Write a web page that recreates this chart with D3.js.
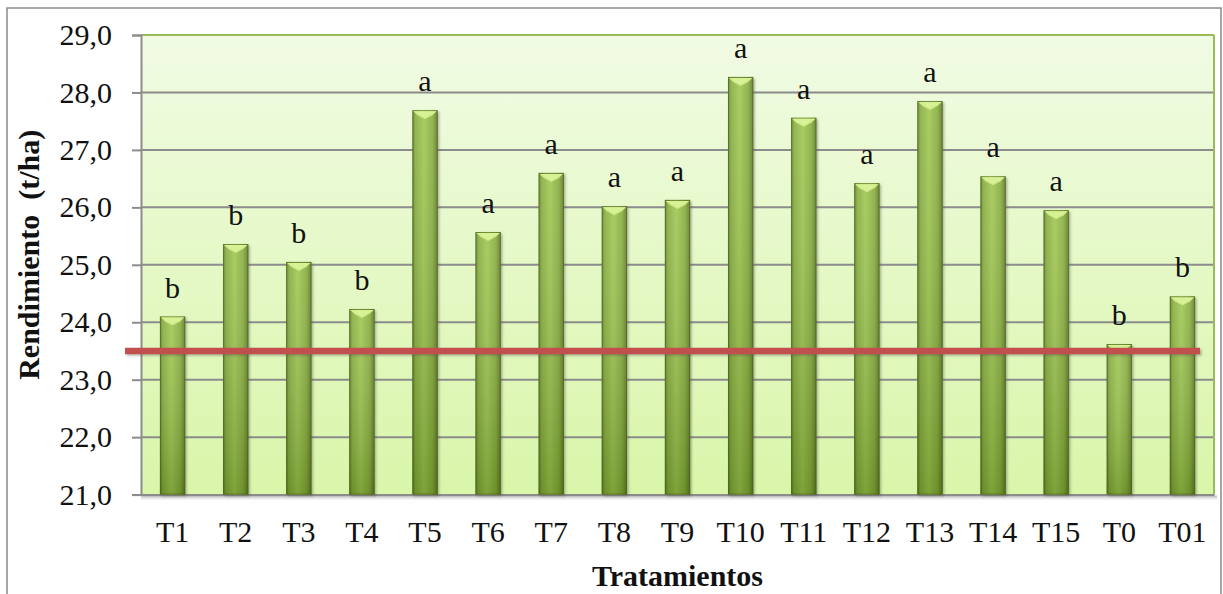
<!DOCTYPE html>
<html><head><meta charset="utf-8">
<script src="https://cdn.jsdelivr.net/npm/d3@7"></script>
<style>body{margin:0;background:#fff}svg{display:block}text{font-family:"Liberation Serif","Times New Roman",serif}</style>
</head><body>
<svg id="c" width="1223" height="594"></svg>
<script>
const categories = ["T1","T2","T3","T4","T5","T6","T7","T8","T9","T10","T11","T12","T13","T14","T15","T0","T01"];
const rendimiento = [24.10,25.36,25.05,24.23,27.69,25.57,26.60,26.02,26.13,28.27,27.56,26.42,27.85,26.54,25.95,23.62,24.45];
const letras = ["b","b","b","b","a","a","a","a","a","a","a","a","a","a","a","b","b"];
const referencia = 23.5;
const yTicks = [21,22,23,24,25,26,27,28,29];
const yTitle = "Rendimiento  (t/ha)";
const xTitle = "Tratamientos";

const svg = d3.select("#c");
const L = 141, R = 1214, T = 35, B = 494.6;
const x = d3.scaleBand().domain(categories).range([L, R]).paddingInner(0.6).paddingOuter(0.3);
const y = d3.scaleLinear().domain([21, 29]).range([B, T]);

const defs = svg.append("defs");
const bg = defs.append("linearGradient").attr("id","bg").attr("x1",0).attr("y1",0).attr("x2",0).attr("y2",1);
bg.append("stop").attr("offset","0%").attr("stop-color","#f1fbe4");
bg.append("stop").attr("offset","100%").attr("stop-color","#d9f6a9");
const bh = defs.append("linearGradient").attr("id","bh").attr("x1",0).attr("y1",0).attr("x2",1).attr("y2",0);
[[0,"#5c7a22"],[0.12,"#84aa3a"],[0.45,"#9dc64e"],[0.8,"#84aa3a"],[1,"#5a761f"]].forEach(s=>bh.append("stop").attr("offset",s[0]).attr("stop-color",s[1]));
const bv = defs.append("linearGradient").attr("id","bv").attr("x1",0).attr("y1",0).attr("x2",0).attr("y2",1);
bv.append("stop").attr("offset","0%").attr("stop-color","#ffffff").attr("stop-opacity",0.12);
bv.append("stop").attr("offset","100%").attr("stop-color","#2f4a08").attr("stop-opacity",0.28);
const sh = defs.append("linearGradient").attr("id","sh").attr("x1",0).attr("y1",0).attr("x2",0).attr("y2",1);
sh.append("stop").attr("offset","0%").attr("stop-color","#999").attr("stop-opacity",0.8);
sh.append("stop").attr("offset","100%").attr("stop-color","#fff").attr("stop-opacity",0);
defs.append("filter").attr("id","ds").attr("filterUnits","userSpaceOnUse").attr("x",0).attr("y",0).attr("width",1223).attr("height",594)
  .append("feDropShadow").attr("dx",1.5).attr("dy",1.5).attr("stdDeviation",1.2).attr("flood-color","#555").attr("flood-opacity",0.45);

// outer border
svg.append("rect").attr("x",7).attr("y",8).attr("width",1214).attr("height",600).attr("fill","#fff").attr("stroke","#8a8a8a").attr("stroke-width",1.5);

// plot background
svg.append("rect").attr("x",L).attr("y",T).attr("width",R-L).attr("height",B-T).attr("fill","url(#bg)");
svg.append("rect").attr("x",L).attr("y",B+1).attr("width",R-L+3).attr("height",6).attr("fill","url(#sh)");

// gridlines
svg.append("g").selectAll("line").data(yTicks.filter(d=>d>21&&d<29)).join("line")
  .attr("x1",L).attr("x2",R).attr("y1",d=>y(d)).attr("y2",d=>y(d))
  .attr("stroke","#8c8c8c").attr("stroke-width",2);
svg.append("line").attr("x1",L).attr("x2",R).attr("y1",T).attr("y2",T).attr("stroke","#9bbb59").attr("stroke-width",2);
svg.append("line").attr("x1",R).attr("x2",R).attr("y1",T).attr("y2",B).attr("stroke","#9bbb59").attr("stroke-width",2);

// y axis
const ya = svg.append("g").attr("transform",`translate(${L},0)`)
  .call(d3.axisLeft(y).tickValues(yTicks).tickSize(9).tickPadding(20).tickFormat(d=>d3.format(".1f")(d).replace(".",",")));
ya.select(".domain").attr("stroke","#8c8c8c").attr("stroke-width",2);
ya.selectAll(".tick line").attr("stroke","#8c8c8c").attr("stroke-width",2);
ya.selectAll(".tick text").attr("font-size",30).attr("fill","#111");

// x axis
const xa = svg.append("g").attr("transform",`translate(0,${B})`)
  .call(d3.axisBottom(x).tickSize(0).tickPadding(26));
xa.select(".domain").attr("stroke","#8c8c8c").attr("stroke-width",2);
xa.selectAll(".tick text").attr("font-size",30).attr("fill","#111");

// bars
const bw = x.bandwidth();
const bars = svg.append("g").selectAll("g").data(categories).join("g");
bars.append("rect").attr("x",d=>x(d)).attr("y",(d,i)=>y(rendimiento[i])).attr("width",bw)
  .attr("height",(d,i)=>B-y(rendimiento[i])).attr("fill","url(#bh)").attr("filter","url(#ds)");
bars.append("rect").attr("x",d=>x(d)).attr("y",(d,i)=>y(rendimiento[i])).attr("width",bw)
  .attr("height",(d,i)=>B-y(rendimiento[i])).attr("fill","url(#bv)");
bars.append("rect").attr("x",d=>x(d)+0.5).attr("y",(d,i)=>y(rendimiento[i])+0.5).attr("width",bw-1)
  .attr("height",(d,i)=>B-y(rendimiento[i])-1).attr("fill","none").attr("stroke","#4a6318").attr("stroke-width",1).attr("stroke-opacity",0.6);
bars.append("path").attr("d",(d,i)=>{const x0=x(d), y0=y(rendimiento[i]);
  return `M${x0+1},${y0+1}L${x0+bw-1},${y0+1}L${x0+bw-5},${y0+5}L${x0+bw/2},${y0+9}L${x0+5},${y0+5}Z`;})
  .attr("fill","#cbe884");
bars.append("path").attr("d",(d,i)=>{const x0=x(d), y0=y(rendimiento[i]);
  return `M${x0+1},${y0+1}L${x0+bw-1},${y0+1}L${x0+bw/2},${y0+8}Z`;})
  .attr("fill","#d9f29a").attr("opacity",0.8);

// significance letters
svg.append("g").selectAll("text").data(categories).join("text")
  .attr("x",d=>x(d)+bw/2).attr("y",(d,i)=>y(rendimiento[i])-19)
  .attr("text-anchor","middle").attr("font-size",30).attr("fill","#111").text((d,i)=>letras[i]);

// reference line
svg.append("rect").attr("x",125).attr("width",1075).attr("y",y(referencia)-3.2).attr("height",6.4)
  .attr("fill","#c0504d").attr("filter","url(#ds)");

// titles
svg.append("text").attr("x",(L+R)/2).attr("y",586).attr("text-anchor","middle").attr("font-size",30)
  .attr("font-weight","bold").attr("fill","#111").text(xTitle);
svg.append("text").attr("transform",`translate(39,${(T+B)/2-10}) rotate(-90)`).attr("text-anchor","middle")
  .attr("font-size",30).attr("font-weight","bold").attr("fill","#111").attr("xml:space","preserve").style("white-space","pre").text(yTitle);
</script>
</body></html>
